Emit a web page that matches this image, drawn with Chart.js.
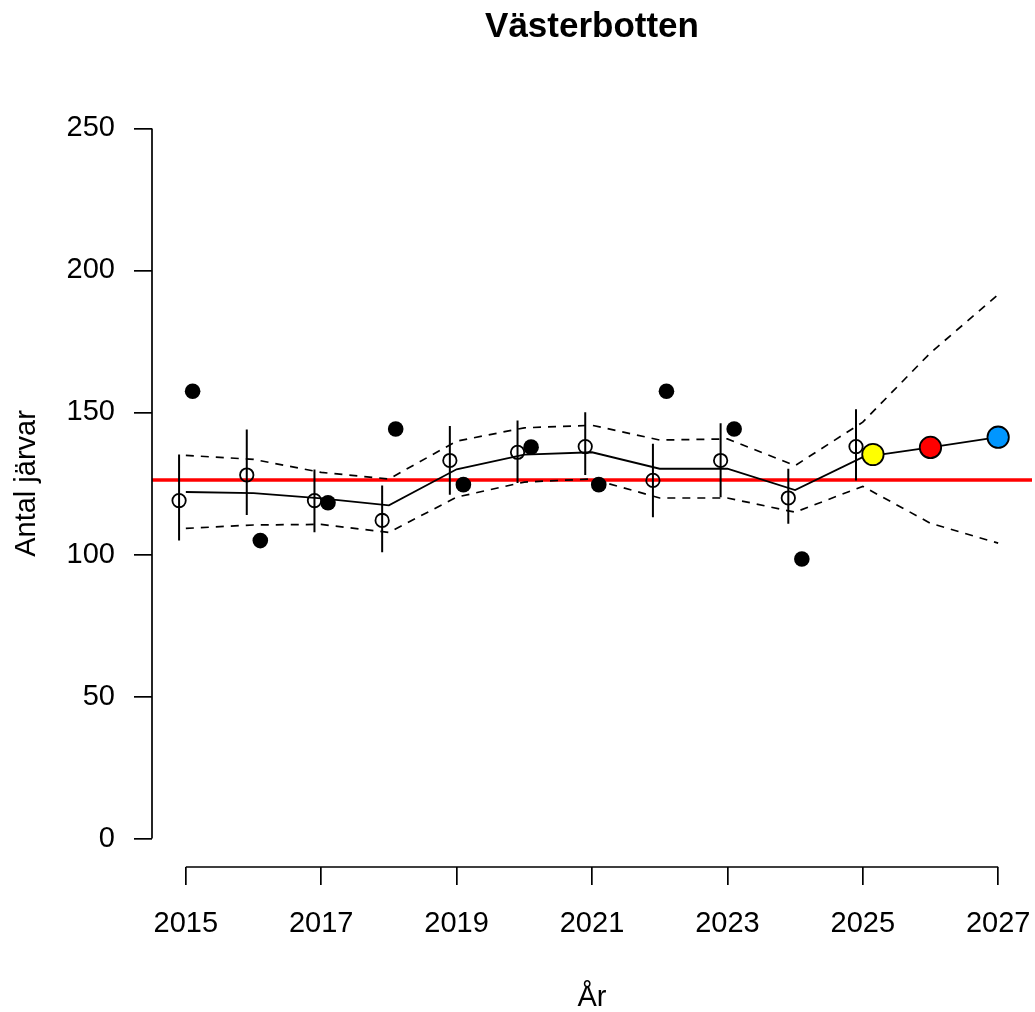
<!DOCTYPE html>
<html>
<head>
<meta charset="utf-8">
<script src="https://cdn.jsdelivr.net/npm/chart.js@4.4.0/dist/chart.umd.min.js"></script>
<style>
  body { margin: 0; background: #fff; }
  canvas { display: block; }
</style>
</head>
<body>
<canvas id="jarvGrafik" width="1035" height="1012"></canvas>
<script>
// inventeringsår och värden
const years = [2015, 2016, 2017, 2018, 2019, 2020, 2021, 2022, 2023, 2024, 2025];
const obsYears = [2015, 2016, 2017, 2018, 2019, 2020, 2021, 2022, 2023, 2024];
const observed = [157.5, 104.9, 118.2, 144.2, 124.6, 137.8, 124.6, 157.5, 144.2, 98.4];
const estimate = [119.0, 128.0, 119.0, 112.0, 133.1, 136.0, 138.0, 126.1, 133.1, 119.9, 138.0];
const estLow = [104.9, 113.9, 107.8, 100.8, 121.0, 125.2, 128.0, 113.1, 120.2, 110.8, 126.1];
const estHigh = [135.2, 144.0, 129.9, 124.3, 145.2, 147.2, 150.1, 139.0, 146.2, 130.2, 151.1];
const trendYears = [2015, 2016, 2017, 2018, 2019, 2020, 2021, 2022, 2023, 2024, 2025, 2026, 2027];
const trend = [122.0, 121.6, 119.8, 117.3, 130.0, 135.2, 136.0, 130.2, 130.2, 122.7, 134.3, 137.7, 141.3];
const trendLow = [109.2, 110.4, 110.6, 107.8, 120.2, 125.5, 126.6, 119.9, 119.9, 114.9, 124.0, 111.0, 104.0];
const trendHigh = [134.9, 133.5, 128.9, 126.6, 139.9, 144.6, 145.5, 140.3, 140.7, 131.3, 146.6, 171.0, 191.5];
const currentYear = 2025;
const currentValue = 135.2;
const forecastYears = [2026, 2027];
const forecast = [137.7, 141.3];
const refLevel = 126.2;
const xTicks = [2015, 2017, 2019, 2021, 2023, 2025, 2027];
const yTicks = [0, 50, 100, 150, 200, 250];

const FONT = "'Liberation Sans', Arial, Helvetica, sans-serif";
Chart.defaults.font.family = FONT;
Chart.defaults.color = '#000';

const pts = (xs, ys, dx) => xs.map((x, i) => ({ x: x + (dx || 0), y: ys[i] }));

// felstaplar som en bruten linje
const errBars = [];
years.forEach((yr, i) => {
  errBars.push({ x: yr - 0.1, y: estLow[i] });
  errBars.push({ x: yr - 0.1, y: estHigh[i] });
  errBars.push({ x: yr - 0.1, y: null });
});

const axisLines = {
  id: 'axisLines',
  afterDatasetsDraw(chart) {
    const { ctx, chartArea, scales: { x, y } } = chart;
    ctx.save();
    ctx.strokeStyle = '#000';
    ctx.lineWidth = 1.7;
    ctx.beginPath();
    ctx.moveTo(chartArea.left, y.getPixelForValue(yTicks[0]));
    ctx.lineTo(chartArea.left, y.getPixelForValue(yTicks[yTicks.length - 1]));
    ctx.moveTo(x.getPixelForValue(xTicks[0]), chartArea.bottom);
    ctx.lineTo(x.getPixelForValue(xTicks[xTicks.length - 1]), chartArea.bottom);
    ctx.stroke();
    ctx.restore();
  }
};

const ctx = document.getElementById('jarvGrafik').getContext('2d');
const chart = new Chart(ctx, {
  type: 'line',
  data: {
    datasets: [
      {
        data: [{ x: currentYear + 0.15, y: currentValue }],
        showLine: false, pointRadius: 10.7, pointBackgroundColor: '#ffff00',
        pointBorderColor: '#000', pointBorderWidth: 1.8
      },
      {
        data: [{ x: forecastYears[0], y: forecast[0] }],
        showLine: false, pointRadius: 10.7, pointBackgroundColor: '#ff0000',
        pointBorderColor: '#000', pointBorderWidth: 1.8
      },
      {
        data: [{ x: forecastYears[1], y: forecast[1] }],
        showLine: false, pointRadius: 10.7, pointBackgroundColor: '#0096ff',
        pointBorderColor: '#000', pointBorderWidth: 1.8
      },
      {
        data: pts(obsYears, observed, 0.1),
        showLine: false, pointRadius: 7.8, pointBackgroundColor: '#000',
        pointBorderColor: '#000', pointBorderWidth: 0
      },
      {
        data: pts(years, estimate, -0.1),
        showLine: false, pointRadius: 6.7, pointBackgroundColor: 'rgba(0,0,0,0)',
        pointBorderColor: '#000', pointBorderWidth: 1.8
      },
      {
        data: errBars,
        borderColor: '#000', borderWidth: 2, pointRadius: 0, spanGaps: false
      },
      {
        data: pts(trendYears, trend),
        borderColor: '#000', borderWidth: 1.8, pointRadius: 0, tension: 0
      },
      {
        data: pts(trendYears, trendHigh),
        borderColor: '#000', borderWidth: 1.7, borderDash: [8, 7], pointRadius: 0, tension: 0
      },
      {
        data: pts(trendYears, trendLow),
        borderColor: '#000', borderWidth: 1.7, borderDash: [8, 7], pointRadius: 0, tension: 0
      },
      {
        data: [{ x: 2014.5, y: refLevel }, { x: 2027.5, y: refLevel }],
        borderColor: '#ff0000', borderWidth: 3.5, pointRadius: 0
      }
    ]
  },
  options: {
    responsive: false,
    animation: false,
    devicePixelRatio: 1,
    layout: { autoPadding: false, padding: { left: 0, right: 3, top: 0, bottom: 0 } },
    plugins: {
      legend: { display: false },
      tooltip: { enabled: false },
      title: {
        display: true,
        text: 'Västerbotten',
        fullSize: false,
        font: { size: 35, weight: 'bold', lineHeight: 1 },
        padding: { top: 10, bottom: 55 },
        color: '#000'
      }
    },
    scales: {
      x: {
        type: 'linear',
        min: 2014.5,
        max: 2027.5,
        afterBuildTicks: (s) => { s.ticks = xTicks.map(v => ({ value: v })); },
        afterFit: (s) => { s.height = 145; s.paddingLeft = 0; s.paddingRight = 0; },
        border: { display: false },
        grid: { drawOnChartArea: false, drawTicks: true, tickLength: 18, color: '#000', lineWidth: 1.7 },
        ticks: { font: { size: 29, lineHeight: 2.72 }, padding: 0, autoSkip: false, maxRotation: 0, callback: v => String(v) },
        title: { display: true, text: 'År', font: { size: 29, lineHeight: 1 }, padding: { top: 0, bottom: 0 } }
      },
      y: {
        min: -10,
        max: 260,
        afterBuildTicks: (s) => { s.ticks = yTicks.map(v => ({ value: v })); },
        afterFit: (s) => { s.width = 152; s.paddingTop = 0; s.paddingBottom = 0; },
        border: { display: false },
        grid: { drawOnChartArea: false, drawTicks: true, tickLength: 18, color: '#000', lineWidth: 1.7 },
        ticks: { font: { size: 29 }, padding: 19 },
        title: { display: true, text: 'Antal järvar', font: { size: 29, lineHeight: 1 }, padding: { top: 12, bottom: 0 } }
      }
    }
  },
  plugins: [axisLines]
});
</script>
</body>
</html>
